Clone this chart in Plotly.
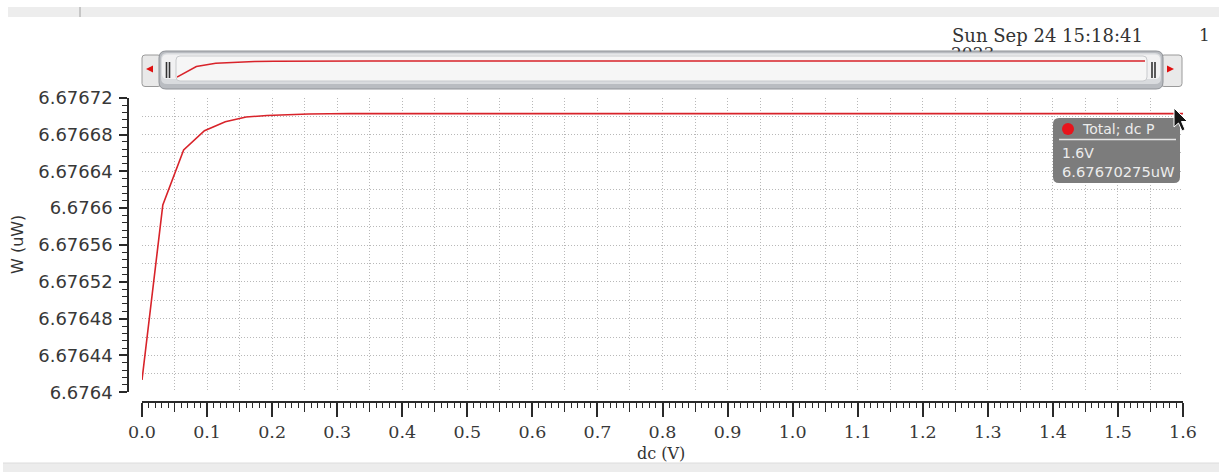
import plotly.graph_objects as go

# ---------------- data ----------------
dc_v = [0.0, 0.032, 0.064, 0.096, 0.128, 0.16, 0.192, 0.224, 0.256, 0.288, 0.32, 1.6]
power_uw = [6.6764134, 6.6766035, 6.6766632, 6.6766842, 6.6766939, 6.6766990,
            6.6767007, 6.6767017, 6.6767023, 6.6767026, 6.67670275, 6.67670275]

x_tick_vals = [0.0, 0.1, 0.2, 0.3, 0.4, 0.5, 0.6, 0.7, 0.8, 0.9, 1.0, 1.1, 1.2, 1.3, 1.4, 1.5, 1.6]
x_tick_text = ["0.0", "0.1", "0.2", "0.3", "0.4", "0.5", "0.6", "0.7", "0.8", "0.9",
               "1.0", "1.1", "1.2", "1.3", "1.4", "1.5", "1.6"]
y_tick_vals = [6.6764, 6.67644, 6.67648, 6.67652, 6.67656, 6.6766, 6.67664, 6.67668, 6.67672]
y_tick_text = ["6.6764", "6.67644", "6.67648", "6.67652", "6.67656", "6.6766", "6.67664", "6.67668", "6.67672"]

series_name = "Total; dc P"
date_text = "Sun Sep 24 15:18:41"
year_text = "2023"
page_text = "1"
x_title = "dc (V)"
y_title = "W (uW)"

# ---------------- geometry helpers ----------------
W, H = 1219, 472


def X(px):
    return px / W


def Y(py):
    return 1 - py / H


def rrect(x0, y0, x1, y1, r):
    """rounded rectangle path in paper coords from pixel coords"""
    return (
        f"M {X(x0 + r)},{Y(y0)} L {X(x1 - r)},{Y(y0)} Q {X(x1)},{Y(y0)} {X(x1)},{Y(y0 + r)} "
        f"L {X(x1)},{Y(y1 - r)} Q {X(x1)},{Y(y1)} {X(x1 - r)},{Y(y1)} "
        f"L {X(x0 + r)},{Y(y1)} Q {X(x0)},{Y(y1)} {X(x0)},{Y(y1 - r)} "
        f"L {X(x0)},{Y(y0 + r)} Q {X(x0)},{Y(y0)} {X(x0 + r)},{Y(y0)} Z"
    )


def poly(points):
    return "M " + " L ".join(f"{X(a)},{Y(b)}" for a, b in points) + " Z"


PX0, PX1 = 142, 1183
PY_TOP, PY_BOT = 97.7, 392.3
RED = "#d8232a"
AX = "#2a2a2a"
GRID = "#b8b8b8"
GRID_DASH = "1px,2px"

x_range = [x_tick_vals[0], x_tick_vals[-1]]
y_range = [y_tick_vals[0], y_tick_vals[-1]]

fig = go.Figure()

# main curve
fig.add_trace(go.Scatter(x=dc_v, y=power_uw, mode="lines", line=dict(color=RED, width=1.6),
                         xaxis="x", yaxis="y", hoverinfo="skip", showlegend=False))
# invisible anchors for the offset axes
fig.add_trace(go.Scatter(x=[dc_v[0]], y=[power_uw[0]], mode="markers", opacity=0,
                         xaxis="x2", yaxis="y2", hoverinfo="skip", showlegend=False))
fig.add_trace(go.Scatter(x=[dc_v[0]], y=[power_uw[0]], mode="markers", opacity=0,
                         xaxis="x3", yaxis="y2", hoverinfo="skip", showlegend=False))
# mini overview curve inside the scroll bar
vmin, vmax = min(power_uw), max(power_uw)
span = vmax - vmin
fig.add_trace(go.Scatter(x=dc_v, y=power_uw, mode="lines", line=dict(color=RED, width=1.5),
                         xaxis="x4", yaxis="y4", hoverinfo="skip", showlegend=False))
# partially hidden year text (clipped)
fig.add_trace(go.Scatter(x=[951], y=[55], mode="text", text=[year_text], textposition="middle right",
                         textfont=dict(family="DejaVu Serif", size=17, color="#333333"),
                         xaxis="x5", yaxis="y5", cliponaxis=True, hoverinfo="skip", showlegend=False))

shapes = []
# top and bottom gray bands
shapes.append(dict(type="rect", xref="paper", yref="paper", x0=X(8), x1=X(1219), y0=Y(17), y1=Y(7),
                   fillcolor="#ededed", line=dict(width=0), layer="below"))
shapes.append(dict(type="line", xref="paper", yref="paper", x0=X(80), x1=X(80), y0=Y(17), y1=Y(7),
                   line=dict(color="#a0a0a0", width=1), layer="below"))
shapes.append(dict(type="rect", xref="paper", yref="paper", x0=X(3), x1=X(1219), y0=Y(472), y1=Y(463),
                   fillcolor="#ececec", line=dict(width=0), layer="below"))
shapes.append(dict(type="line", xref="paper", yref="paper", x0=X(3), x1=X(1219), y0=Y(463), y1=Y(463),
                   line=dict(color="#dcdcdc", width=1), layer="below"))

# scroll bar buttons
for bx0, bx1 in [(142, 161), (1161, 1182)]:
    shapes.append(dict(type="path", xref="paper", yref="paper", path=rrect(bx0, 55, bx1, 86.5, 3),
                       fillcolor="#e9e9e9", line=dict(color="#9a9a9a", width=1), layer="below"))
shapes.append(dict(type="path", xref="paper", yref="paper", path=poly([(146, 69), (153, 65.5), (153, 72.5)]),
                   fillcolor="#e01010", line=dict(width=0), layer="below"))
shapes.append(dict(type="path", xref="paper", yref="paper", path=poly([(1174, 69), (1167, 65.5), (1167, 72.5)]),
                   fillcolor="#e01010", line=dict(width=0), layer="below"))
# scroll bar body (layered grays to imitate the gradient)
shapes.append(dict(type="path", xref="paper", yref="paper", path=rrect(159, 51, 1163, 89, 7),
                   fillcolor="#b9bcc1", line=dict(color="#8f9297", width=1), layer="below"))
shapes.append(dict(type="path", xref="paper", yref="paper", path=rrect(161, 53, 1161, 84, 6),
                   fillcolor="#d9dbde", line=dict(width=0), layer="below"))
shapes.append(dict(type="path", xref="paper", yref="paper", path=rrect(162, 54.5, 1160, 79, 5),
                   fillcolor="#f1f1f2", line=dict(width=0), layer="below"))
shapes.append(dict(type="path", xref="paper", yref="paper", path=rrect(176, 56, 1147, 81, 4),
                   fillcolor="#f6f6f6", line=dict(color="#c8cacd", width=1), layer="below"))
# grips
for gx in [166.5, 169.5, 1152, 1155]:
    shapes.append(dict(type="line", xref="paper", yref="paper", x0=X(gx), x1=X(gx), y0=Y(78), y1=Y(62),
                       line=dict(color="#333333", width=1.6), layer="below"))

# tooltip
shapes.append(dict(type="path", xref="paper", yref="paper", path=rrect(1053, 118, 1180, 183, 6),
                   fillcolor="#7c7c7c", line=dict(width=0), layer="above"))
shapes.append(dict(type="circle", xref="paper", yref="paper", x0=X(1062), x1=X(1074), y0=Y(135), y1=Y(123),
                   fillcolor="#e8141c", line=dict(width=0), layer="above"))
shapes.append(dict(type="line", xref="paper", yref="paper", x0=X(1059), x1=X(1176), y0=Y(139.5), y1=Y(139.5),
                   line=dict(color="#e6e6e6", width=1.5), layer="above"))
# mouse cursor
shapes.append(dict(type="path", xref="paper", yref="paper",
                   path=poly([(1174, 108), (1174, 127), (1178.5, 123), (1182, 131), (1185, 129.5),
                              (1181.5, 121.5), (1187.5, 121.5)]),
                   fillcolor="#151515", line=dict(color="#ffffff", width=1), layer="above"))

annotations = [
    dict(text=date_text, x=X(950), y=Y(35), xref="paper", yref="paper", xanchor="left", yanchor="middle",
         showarrow=False, font=dict(family="DejaVu Serif", size=18, color="#333333")),
    dict(text=page_text, x=X(1197), y=Y(35), xref="paper", yref="paper", xanchor="left", yanchor="middle",
         showarrow=False, font=dict(family="DejaVu Serif", size=17, color="#333333")),
    dict(text=y_title, x=X(18), y=Y(245), xref="paper", yref="paper", xanchor="center", yanchor="middle",
         textangle=-90, showarrow=False, font=dict(family="DejaVu Sans", size=16, color="#333333")),
    dict(text=x_title, x=X(661), y=Y(453), xref="paper", yref="paper", xanchor="center", yanchor="middle",
         showarrow=False, font=dict(family="DejaVu Serif", size=16, color="#333333")),
    dict(text=series_name, x=X(1080), y=Y(129), xref="paper", yref="paper", xanchor="left", yanchor="middle",
         showarrow=False, font=dict(family="DejaVu Sans", size=14, color="#ececec")),
    dict(text=f"{dc_v[-1]}V", x=X(1060), y=Y(153), xref="paper", yref="paper", xanchor="left", yanchor="middle",
         showarrow=False, font=dict(family="DejaVu Sans", size=14, color="#ececec")),
    dict(text=f"{power_uw[-1]:.8f}uW", x=X(1060), y=Y(172), xref="paper", yref="paper", xanchor="left",
         yanchor="middle", showarrow=False, font=dict(family="DejaVu Sans", size=14.7, color="#ececec")),
]

grid_common = dict(showgrid=True, gridcolor=GRID, griddash=GRID_DASH, gridwidth=1, zeroline=False,
                   showline=False, ticks="", showticklabels=False, fixedrange=True, automargin=False)

fig.update_layout(
    width=W, height=H, autosize=False,
    margin=dict(l=0, r=0, t=0, b=0, pad=0, autoexpand=False),
    paper_bgcolor="white", plot_bgcolor="rgba(0,0,0,0)", showlegend=False,
    xaxis=dict(domain=[X(PX0), X(PX1)], range=x_range, anchor="y", dtick=0.05, tick0=0, **grid_common),
    yaxis=dict(domain=[Y(PY_BOT), Y(PY_TOP)], range=y_range, anchor="x", dtick=0.00002, tick0=y_tick_vals[0],
               **grid_common),
    yaxis2=dict(overlaying="y", anchor="free", position=X(128), side="left", range=y_range,
                tickmode="array", tickvals=y_tick_vals, ticktext=y_tick_text,
                ticks="outside", ticklen=8, tickwidth=1.5, tickcolor=AX,
                showline=True, linecolor=AX, linewidth=1.5, showgrid=False, zeroline=False,
                ticklabelstandoff=3, automargin=False,
                tickfont=dict(family="DejaVu Sans", size=18, color="#383838"),
                minor=dict(ticks="outside", ticklen=5, tickwidth=1.2, tickcolor=AX, dtick=0.000008,
                           tick0=y_tick_vals[0], showgrid=False)),
    xaxis2=dict(overlaying="x", anchor="free", position=Y(402), side="bottom", range=x_range,
                tickmode="array", tickvals=x_tick_vals, ticktext=x_tick_text,
                ticks="outside", ticklen=14, tickwidth=1.5, tickcolor=AX,
                showline=True, linecolor=AX, linewidth=1.5, showgrid=False, zeroline=False,
                ticklabelstandoff=0, automargin=False,
                tickfont=dict(family="DejaVu Serif", size=17.5, color="#383838"),
                minor=dict(ticks="outside", ticklen=5, tickwidth=1.2, tickcolor=AX, dtick=0.01, tick0=0,
                           showgrid=False)),
    xaxis3=dict(overlaying="x", anchor="free", position=Y(402), side="bottom", range=x_range,
                tickmode="linear", dtick=0.05, tick0=0, ticks="outside", ticklen=9, tickwidth=1.3,
                tickcolor=AX, showticklabels=False, showline=False, showgrid=False, zeroline=False,
                automargin=False),
    xaxis4=dict(domain=[X(177), X(1145)], range=x_range, anchor="y4", visible=False, fixedrange=True),
    yaxis4=dict(domain=[Y(78), Y(60)], range=[vmin - span / 16, vmax + span / 16], anchor="x4",
                visible=False, fixedrange=True),
    xaxis5=dict(domain=[X(940), X(1170)], range=[940, 1170], anchor="y5", visible=False, fixedrange=True),
    yaxis5=dict(domain=[Y(51.5), Y(38)], range=[51.5, 38], anchor="x5", visible=False, fixedrange=True),
    shapes=shapes, annotations=annotations,
)

fig.write_html("out.html")
